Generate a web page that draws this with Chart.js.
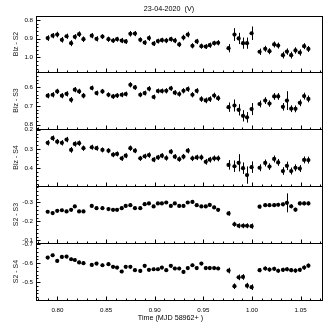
<!DOCTYPE html>
<html>
<head>
<meta charset="utf-8">
<script src="https://cdn.jsdelivr.net/npm/chart.js@4.4.1/dist/chart.umd.min.js"></script>
<style>
  html, body { margin: 0; padding: 0; background: #fff; }
  #wrap { position: relative; width: 327px; height: 327px; overflow: hidden; }
  #wrap canvas { position: absolute; left: 0; top: 0; }
  .txt { position: absolute; font-family: 'Liberation Sans', Arial, sans-serif; color: #000;
         white-space: pre; text-align: center; line-height: 1; }
</style>
</head>
<body>
<div id="wrap">
  <canvas id="c0" width="327" height="327"></canvas>
  <canvas id="c1" width="327" height="327"></canvas>
  <canvas id="c2" width="327" height="327"></canvas>
  <canvas id="c3" width="327" height="327"></canvas>
  <canvas id="c4" width="327" height="327"></canvas>
  <div class="txt" id="title" style="left:0;width:338px;top:5px;font-size:7.2px"></div>
  <div class="txt" id="xlabel" style="left:0;width:341px;top:314px;font-size:7.2px"></div>
</div>
<script>
// time axis, MJD 58962 + fraction of day
const mjd = [
  0.7900, 0.7951, 0.7998, 0.8046, 0.8094, 0.8141, 0.8179, 0.8223, 0.8268,
  0.8353, 0.8402, 0.8463, 0.8525, 0.8572, 0.8613, 0.8661, 0.8702, 0.8750, 0.8797,
  0.8852, 0.8897, 0.8941, 0.8989, 0.9033, 0.9074, 0.9119, 0.9166, 0.9207, 0.9252,
  0.9296, 0.9340, 0.9388, 0.9432, 0.9480, 0.9525, 0.9566, 0.9611, 0.9652,
  0.9759,
  0.9820, 0.9863, 0.9908, 0.9949, 0.9996,
  1.0078, 1.0136, 1.0180, 1.0228, 1.0269, 1.0318, 1.0359, 1.0403, 1.0447, 1.0492, 1.0536, 1.0580
];

const blzS2 = [
  0.897, 0.884, 0.878, 0.906, 0.887, 0.924, 0.890, 0.876, 0.903,
  0.884, 0.901, 0.889, 0.903, 0.910, 0.903, 0.910, 0.915, 0.874, 0.873,
  0.906, 0.921, 0.897, 0.926, 0.913, 0.908, 0.910, 0.903, 0.910, 0.931,
  0.894, 0.878, 0.938, 0.915, 0.940, 0.942, 0.935, 0.924, 0.922,
  0.951,
  0.878, 0.899, 0.924, 0.924, 0.871,
  0.970, 0.954, 0.967, 0.931, 0.937, 0.988, 0.969, 0.988, 0.963, 0.974, 0.940, 0.955
];
const errBlzS2 = [
  0.015, 0.014, 0.015, 0.015, 0.014, 0.016, 0.014, 0.015, 0.015,
  0.014, 0.014, 0.013, 0.014, 0.013, 0.013, 0.014, 0.013, 0.015, 0.014,
  0.013, 0.013, 0.015, 0.013, 0.013, 0.013, 0.014, 0.013, 0.014, 0.014,
  0.015, 0.015, 0.014, 0.014, 0.014, 0.013, 0.014, 0.013, 0.014,
  0.022,
  0.034, 0.030, 0.030, 0.030, 0.036,
  0.017, 0.016, 0.016, 0.016, 0.016, 0.018, 0.017, 0.018, 0.017, 0.017, 0.016, 0.016
];

const blzS3 = [
  0.646, 0.641, 0.623, 0.646, 0.636, 0.668, 0.614, 0.623, 0.646,
  0.605, 0.632, 0.623, 0.641, 0.650, 0.645, 0.641, 0.637, 0.588, 0.602,
  0.641, 0.632, 0.609, 0.653, 0.621, 0.621, 0.620, 0.607, 0.630, 0.637,
  0.620, 0.611, 0.641, 0.620, 0.664, 0.671, 0.664, 0.645, 0.659,
  0.707,
  0.698, 0.721, 0.753, 0.761, 0.717,
  0.690, 0.672, 0.688, 0.650, 0.650, 0.705, 0.672, 0.715, 0.716, 0.684, 0.648, 0.663
];
const errBlzS3 = [
  0.014, 0.014, 0.014, 0.014, 0.014, 0.015, 0.014, 0.014, 0.014,
  0.013, 0.013, 0.013, 0.013, 0.013, 0.013, 0.013, 0.013, 0.014, 0.013,
  0.013, 0.013, 0.014, 0.013, 0.013, 0.013, 0.014, 0.013, 0.013, 0.014,
  0.014, 0.014, 0.014, 0.014, 0.015, 0.015, 0.015, 0.015, 0.015,
  0.025,
  0.032, 0.030, 0.030, 0.028, 0.032,
  0.018, 0.018, 0.017, 0.018, 0.018, 0.020, 0.050, 0.018, 0.018, 0.018, 0.018, 0.018
];

const blzS4 = [
  0.268, 0.244, 0.262, 0.268, 0.251, 0.305, 0.274, 0.270, 0.296,
  0.291, 0.296, 0.305, 0.309, 0.330, 0.326, 0.349, 0.335, 0.296, 0.309,
  0.349, 0.338, 0.332, 0.356, 0.344, 0.335, 0.347, 0.314, 0.340, 0.353,
  0.340, 0.309, 0.349, 0.344, 0.344, 0.367, 0.356, 0.349, 0.349,
  0.383,
  0.390, 0.372, 0.400, 0.436, 0.395,
  0.398, 0.373, 0.392, 0.352, 0.370, 0.415, 0.388, 0.415, 0.398, 0.402, 0.357, 0.358
];
const errBlzS4 = [
  0.014, 0.014, 0.014, 0.014, 0.014, 0.015, 0.014, 0.014, 0.014,
  0.013, 0.013, 0.013, 0.013, 0.013, 0.013, 0.013, 0.013, 0.014, 0.013,
  0.013, 0.013, 0.014, 0.013, 0.013, 0.013, 0.014, 0.013, 0.013, 0.014,
  0.014, 0.014, 0.014, 0.014, 0.015, 0.015, 0.015, 0.015, 0.015,
  0.025,
  0.030, 0.045, 0.030, 0.045, 0.030,
  0.018, 0.018, 0.017, 0.018, 0.018, 0.020, 0.022, 0.018, 0.018, 0.018, 0.018, 0.018
];

const s2S3 = [
  -0.251, -0.244, -0.256, -0.259, -0.253, -0.261, -0.279, -0.253, -0.253,
  -0.282, -0.270, -0.270, -0.265, -0.261, -0.261, -0.270, -0.282, -0.286, -0.270,
  -0.270, -0.291, -0.295, -0.279, -0.295, -0.295, -0.300, -0.282, -0.295, -0.282,
  -0.282, -0.300, -0.303, -0.286, -0.279, -0.279, -0.287, -0.274, -0.261,
  -0.242,
  -0.185, -0.177, -0.177, -0.177, -0.175,
  -0.278, -0.286, -0.286, -0.286, -0.288, -0.290, -0.298, -0.280, -0.262, -0.295, -0.295, -0.295
];
const errS2S3 = [
  0.008, 0.008, 0.008, 0.008, 0.008, 0.008, 0.008, 0.008, 0.008,
  0.008, 0.008, 0.008, 0.008, 0.008, 0.008, 0.008, 0.008, 0.008, 0.008,
  0.008, 0.008, 0.008, 0.008, 0.008, 0.008, 0.008, 0.008, 0.008, 0.008,
  0.008, 0.008, 0.008, 0.008, 0.008, 0.008, 0.008, 0.008, 0.009,
  0.012,
  0.013, 0.013, 0.013, 0.013, 0.014,
  0.010, 0.010, 0.010, 0.010, 0.010, 0.010, 0.050, 0.011, 0.010, 0.010, 0.010, 0.010
];

const s2S4 = [
  -0.630, -0.642, -0.612, -0.633, -0.635, -0.621, -0.617, -0.604, -0.600,
  -0.591, -0.598, -0.589, -0.595, -0.581, -0.577, -0.556, -0.581, -0.581, -0.563,
  -0.559, -0.586, -0.565, -0.568, -0.568, -0.577, -0.563, -0.586, -0.572, -0.572,
  -0.554, -0.574, -0.589, -0.574, -0.598, -0.574, -0.574, -0.574, -0.572,
  -0.561,
  -0.478, -0.525, -0.527, -0.481, -0.473,
  -0.563, -0.572, -0.566, -0.570, -0.560, -0.565, -0.568, -0.563, -0.561, -0.565, -0.577, -0.587
];
const errS2S4 = [
  0.009, 0.009, 0.009, 0.009, 0.009, 0.009, 0.009, 0.009, 0.009,
  0.009, 0.009, 0.009, 0.009, 0.009, 0.009, 0.009, 0.009, 0.009, 0.009,
  0.009, 0.009, 0.009, 0.009, 0.009, 0.009, 0.009, 0.009, 0.009, 0.009,
  0.009, 0.009, 0.009, 0.009, 0.009, 0.009, 0.009, 0.009, 0.009,
  0.015,
  0.015, 0.015, 0.015, 0.015, 0.015,
  0.011, 0.011, 0.011, 0.011, 0.011, 0.011, 0.011, 0.011, 0.011, 0.011, 0.011, 0.011
];

// axis ranges (y axes are inverted: magnitudes) and tick labels
const xRange = [0.778, 1.073];
const xTicks = [0.80, 0.85, 0.90, 0.95, 1.00, 1.05];
const rangeBlzS2 = [0.779, 1.078], ticksBlzS2 = [0.8, 0.9, 1.0];
const rangeBlzS3 = [0.520, 0.823], ticksBlzS3 = [0.6, 0.7, 0.8];
const rangeBlzS4 = [0.196, 0.493], ticksBlzS4 = [0.2, 0.3, 0.4];
const rangeS2S3 = [-0.387, -0.086], ticksS2S3 = [-0.3, -0.2, -0.1];
const rangeS2S4 = [-0.707, -0.405], ticksS2S4 = [-0.7, -0.6, -0.5];

const titleText = '23-04-2020  (V)';
const xTitle = 'Time (MJD 58962+ )';

const FONT = "'Liberation Sans', Arial, sans-serif";
const W = 327;
const edges = [16, 72, 129, 186, 243, 300];   // panel borders, px
const axisLeft = 36;

document.getElementById('title').textContent = titleText;
document.getElementById('xlabel').textContent = xTitle;

const panels = [
  { label: 'Blz - S2', vals: blzS2, errs: errBlzS2, range: rangeBlzS2, ticks: ticksBlzS2 },
  { label: 'Blz - S3', vals: blzS3, errs: errBlzS3, range: rangeBlzS3, ticks: ticksBlzS3 },
  { label: 'Blz - S4', vals: blzS4, errs: errBlzS4, range: rangeBlzS4, ticks: ticksBlzS4 },
  { label: 'S2 - S3', vals: s2S3, errs: errS2S3, range: rangeS2S3, ticks: ticksS2S3 },
  { label: 'S2 - S4', vals: s2S4, errs: errS2S4, range: rangeS2S4, ticks: ticksS2S4 }
];

// vertical error bars, drawn under the points
const errorBars = {
  id: 'errorBars',
  beforeDatasetsDraw(chart) {
    const ctx = chart.ctx, xs = chart.scales.x, ys = chart.scales.y;
    ctx.save();
    ctx.strokeStyle = '#000';
    ctx.lineWidth = 1;
    chart.data.datasets.forEach(ds => {
      ds.data.forEach((p, i) => {
        const e = ds.errors[i];
        const px = Math.round(xs.getPixelForValue(p.x)) + 0.5;
        ctx.beginPath();
        ctx.moveTo(px, ys.getPixelForValue(p.y - e));
        ctx.lineTo(px, ys.getPixelForValue(p.y + e));
        ctx.stroke();
      });
    });
    ctx.restore();
  }
};

// box frame + inward ticks (major and minor)
const frameTicks = {
  id: 'frameTicks',
  afterDraw(chart) {
    const ctx = chart.ctx, a = chart.chartArea;
    const xs = chart.scales.x, ys = chart.scales.y;
    const l = Math.round(a.left) + 0.5, r = Math.round(a.right) - 0.5;
    const t = Math.round(a.top) + 0.5, b = Math.round(a.bottom) + 0.5;
    ctx.save();
    ctx.strokeStyle = '#000';
    ctx.lineWidth = 1;
    ctx.strokeRect(l, t, r - l, b - t);
    ctx.beginPath();
    // x ticks on the bottom edge, every 0.01, major every 0.05
    for (let k = Math.ceil(xs.min * 100); k <= Math.floor(xs.max * 100); k++) {
      const px = Math.round(xs.getPixelForValue(k / 100)) + 0.5;
      const len = k % 5 === 0 ? 4 : 2;
      ctx.moveTo(px, b);
      ctx.lineTo(px, b - len);
    }
    // y ticks on the left edge, every 0.02, major every 0.1
    const lo = Math.min(ys.min, ys.max), hi = Math.max(ys.min, ys.max);
    for (let k = Math.ceil(lo * 50); k <= Math.floor(hi * 50); k++) {
      const py = Math.round(ys.getPixelForValue(k / 50)) + 0.5;
      const len = k % 5 === 0 ? 4 : 2;
      ctx.moveTo(l, py);
      ctx.lineTo(l + len, py);
    }
    ctx.stroke();
    ctx.restore();
  }
};

panels.forEach((p, i) => {
  const last = i === panels.length - 1;
  new Chart(document.getElementById('c' + i), {
    type: 'scatter',
    data: {
      datasets: [{
        data: mjd.map((tm, k) => ({ x: tm, y: p.vals[k] })),
        errors: p.errs,
        backgroundColor: '#000',
        borderColor: '#000',
        borderWidth: 0,
        pointRadius: 2.1,
        pointHoverRadius: 2.1
      }]
    },
    options: {
      responsive: false,
      animation: false,
      events: [],
      layout: { padding: { top: edges[i], bottom: last ? 0 : W - edges[i + 1], left: 0, right: 4 } },
      plugins: { legend: { display: false }, tooltip: { enabled: false } },
      scales: {
        x: {
          type: 'linear',
          min: xRange[0], max: xRange[1],
          display: last,
          grid: { display: false, drawTicks: false },
          border: { display: false },
          ticks: {
            font: { family: FONT, size: 6.2 }, color: '#000', padding: 7, maxRotation: 0,
            callback: v => v.toFixed(2)
          },
          afterBuildTicks: s => { s.ticks = xTicks.map(v => ({ value: v })); },
          afterFit: s => {
            if (last) { s.height = W - edges[5]; }
            s.paddingLeft = 0; s.paddingRight = 0;
          }
        },
        y: {
          reverse: true,
          min: p.range[0], max: p.range[1],
          grid: { display: false, drawTicks: false },
          border: { display: false },
          title: {
            display: true, text: p.label, color: '#222',
            font: { family: FONT, size: 7 }, padding: { top: 12, bottom: 0 }
          },
          ticks: {
            font: { family: FONT, size: 6.2 }, color: '#000', padding: 3,
            callback: v => v.toFixed(1)
          },
          afterBuildTicks: s => { s.ticks = p.ticks.map(v => ({ value: v })); },
          afterFit: s => { s.width = axisLeft; s.paddingTop = 0; s.paddingBottom = 0; }
        }
      }
    },
    plugins: [errorBars, frameTicks]
  });
});
</script>
</body>
</html>
